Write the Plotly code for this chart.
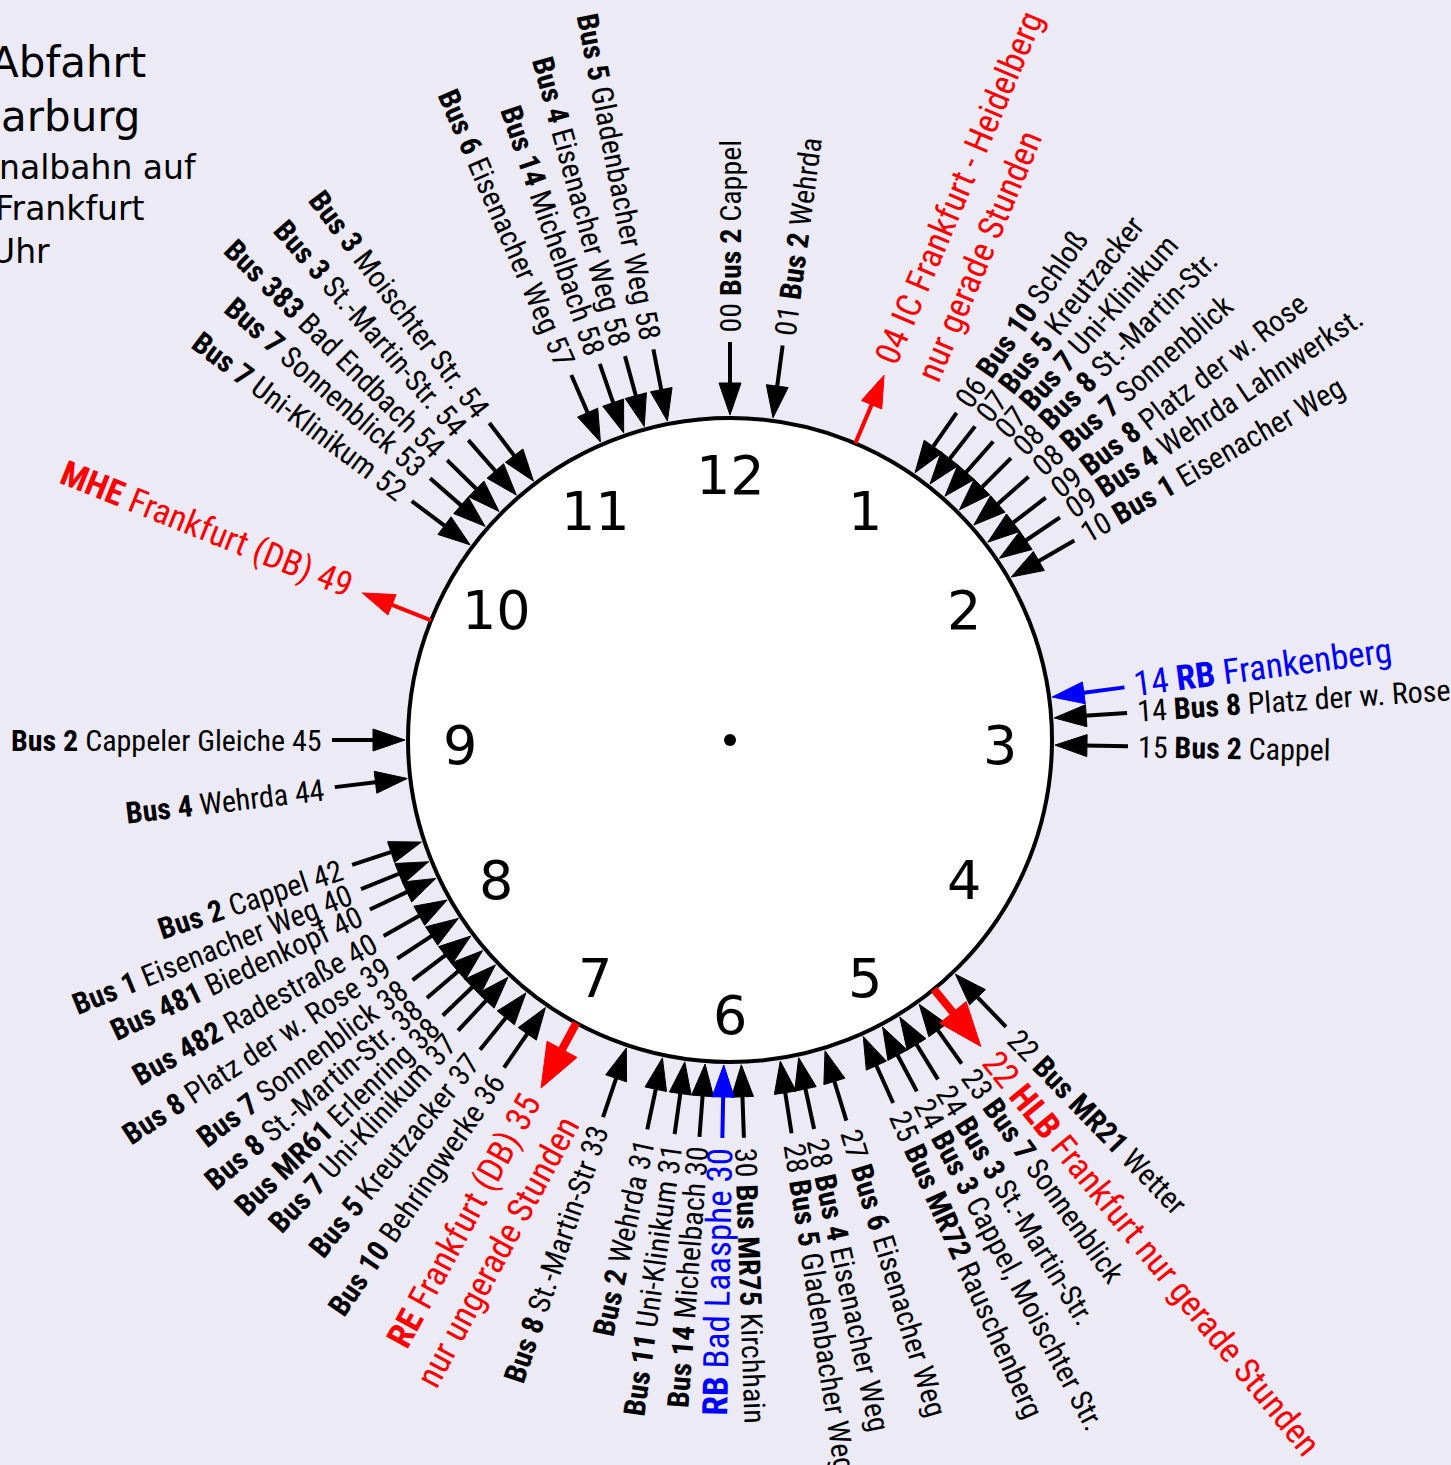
import math
import plotly.graph_objects as go

# ---------------- data ----------------
minute = [0, 1, 4, 6, 7, 7, 8, 8, 9, 9, 10, 14, 14, 15, 22, 22, 23, 24, 24, 25, 27, 28, 28,
          30, 30, 30, 31, 31, 33, 35, 36, 37, 37, 38, 38, 38, 39, 40, 40, 40, 42, 44, 45, 49,
          52, 53, 54, 54, 54, 57, 58, 58, 58]
line = ["Bus 2", "Bus 2", "IC", "Bus 10", "Bus 5", "Bus 7", "Bus 8", "Bus 7", "Bus 8", "Bus 4",
        "Bus 1", "RB", "Bus 8", "Bus 2", "Bus MR21", "HLB", "Bus 7", "Bus 3", "Bus 3", "Bus MR72",
        "Bus 6", "Bus 4", "Bus 5", "Bus MR75", "RB", "Bus 14", "Bus 11", "Bus 2", "Bus 8", "RE",
        "Bus 10", "Bus 5", "Bus 7", "Bus MR61", "Bus 8", "Bus 7", "Bus 8", "Bus 482", "Bus 481",
        "Bus 1", "Bus 2", "Bus 4", "Bus 2", "MHE", "Bus 7", "Bus 7", "Bus 383", "Bus 3", "Bus 3",
        "Bus 6", "Bus 14", "Bus 4", "Bus 5"]
dest = ["Cappel", "Wehrda", "Frankfurt - Heidelberg", "Schloß", "Kreutzacker", "Uni-Klinikum",
        "St.-Martin-Str.", "Sonnenblick", "Platz der w. Rose", "Wehrda Lahnwerkst.", "Eisenacher Weg",
        "Frankenberg", "Platz der w. Rose", "Cappel", "Wetter", "Frankfurt nur gerade Stunden",
        "Sonnenblick", "St.-Martin-Str.", "Cappel, Moischter Str.", "Rauschenberg", "Eisenacher Weg",
        "Eisenacher Weg", "Gladenbacher Weg", "Kirchhain", "Bad Laasphe", "Michelbach", "Uni-Klinikum",
        "Wehrda", "St.-Martin-Str", "Frankfurt (DB)", "Behringwerke", "Kreutzacker", "Uni-Klinikum",
        "Erlenring", "St.-Martin-Str.", "Sonnenblick", "Platz der w. Rose", "Radestraße", "Biedenkopf",
        "Eisenacher Weg", "Cappel", "Wehrda", "Cappeler Gleiche", "Frankfurt (DB)", "Uni-Klinikum",
        "Sonnenblick", "Bad Endbach", "St.-Martin-Str.", "Moischter Str.", "Eisenacher Weg",
        "Michelbach", "Eisenacher Weg", "Gladenbacher Weg"]
# 'bus' = arriving bus, 'rb' = arriving regional train, 'dep' = departing train
kind = ["bus", "bus", "dep", "bus", "bus", "bus", "bus", "bus", "bus", "bus", "bus", "rb", "bus",
        "bus", "bus", "dep", "bus", "bus", "bus", "bus", "bus", "bus", "bus", "bus", "rb", "bus",
        "bus", "bus", "bus", "dep", "bus", "bus", "bus", "bus", "bus", "bus", "bus", "bus", "bus",
        "bus", "bus", "bus", "bus", "dep", "bus", "bus", "bus", "bus", "bus", "bus", "bus", "bus", "bus"]
note = {"IC": "nur gerade Stunden", "RE": "nur ungerade Stunden"}

title_lines = ["Abfahrt", "arburg", "nalbahn auf", "Frankfurt", "Uhr"]
hour_labels = ["12", "1", "2", "3", "4", "5", "6", "7", "8", "9", "10", "11"]

# ---------------- layout / style ----------------
# small angular nudges (deg) that spread crowded rays apart
ray_nudge = [0, 1.6, -1.1, -1.3, -4.0, -0.6, -3.1, 0.6, -1.5, 2.0, -0.1, -1.6, 2.1, 0.9,
             4.1, 8.7, 6.4, 4.5, 8.0, 5.8, 1.0, -0.2, 3.1, -2.0, 1.1, 4.4, 2.0, 6.0, 0.6,
             -1.5, -1.4, -3.1, 1.1, -1.8, 1.6, 4.9, 2.7, 0.5, 4.8, 8.0, -0.3, -0.8, 0.0, -2.2,
             -5.1, -6.9, -9.3, -5.1, -1.2, -5.5, -7.1, -3.3, 0.9]
PLAIN_LINES = {"IC"}
HEAVY_LINES = {"HLB", "RE"}

W, H = 1451, 1465
CX, CY, R = 730, 740, 322
R_TIP_IN, R_TAIL_IN = 325, 398
R_BASE_OUT, R_TIP_OUT = 322, 396
R_TEXT = 407
NUM_CX, NUM_CY, NUM_R = 730, 745, 270
BG = "#EBEAF5"
COLORS = {"bus": "black", "rb": "#0000FF", "dep": "#FF0000"}
HEADS = {"normal": (32, 22, 4), "heavy": (44, 34, 8)}
LABEL_FONT = "Roboto Condensed, Liberation Sans Narrow, Roboto, sans-serif"
SIZE_BUS, SIZE_TRAIN = 30, 35
BOX_H = 1.17          # text box height in em
LINE_GAP = 45


def unit(theta):
    t = math.radians(theta)
    return math.sin(t), -math.cos(t)


fig = go.Figure()
shapes = [
    dict(type="circle", xref="x", yref="y", x0=CX - R, x1=CX + R, y0=CY - R, y1=CY + R,
         line=dict(color="black", width=4), fillcolor="white", layer="below"),
    dict(type="circle", xref="x", yref="y", x0=CX - 6, x1=CX + 6, y0=CY - 6, y1=CY + 6,
         line=dict(color="black", width=0), fillcolor="black", layer="above"),
]

shaft_xy = {}
head_xy = {}
annotations = []


def radial_label(sx, sy, a, outward, txt, fs, col):
    """Place a rotated label so that its start (outward) or end (inward)
    middle point sits at (sx, sy)."""
    h = BOX_H * fs
    ar = math.radians(a)
    s, c = math.sin(ar), math.cos(ar)
    if outward:
        x, xa = sx - h * abs(s) / 2, "left"
        if s >= 0:
            y, ya = sy - h * c / 2, "top"
        else:
            y, ya = sy + h * c / 2, "bottom"
    else:
        x, xa = sx + h * abs(s) / 2, "right"
        if s > 0:
            y, ya = sy + h * c / 2, "bottom"
        else:
            y, ya = sy - h * c / 2, "top"
    return dict(x=x, y=y, xref="x", yref="y", text=txt, textangle=a, showarrow=False,
                xanchor=xa, yanchor=ya, borderpad=0,
                font=dict(family=LABEL_FONT, size=fs, color=col))


for i in range(len(minute)):
    th = minute[i] * 6 + ray_nudge[i]
    col = COLORS[kind[i]]
    style = "heavy" if line[i] in HEAVY_LINES else "normal"
    L, HW, SW = HEADS[style]
    ux, uy = unit(th)
    tx, ty = -uy, ux
    if kind[i] == "dep":
        tip_r = R_TIP_OUT
        base_r = tip_r - L
        s0, s1 = R_BASE_OUT, base_r + 2
    else:
        tip_r = R_TIP_IN
        base_r = tip_r + L
        s0, s1 = R_TAIL_IN, base_r - 2
    sx, sy = shaft_xy.setdefault((col, SW), ([], []))
    sx += [CX + s0 * ux, CX + s1 * ux, None]
    sy += [CY + s0 * uy, CY + s1 * uy, None]
    hx, hy = head_xy.setdefault(col, ([], []))
    bx, by = CX + base_r * ux, CY + base_r * uy
    hx += [CX + tip_r * ux, bx + HW / 2 * tx, bx - HW / 2 * tx, CX + tip_r * ux, None]
    hy += [CY + tip_r * uy, by + HW / 2 * ty, by - HW / 2 * ty, CY + tip_r * uy, None]

    # ---- label ----
    right = th < 180
    a = th - 90 if right else th - 270
    ar = math.radians(a)
    nx, ny = -math.sin(ar), math.cos(ar)
    lname = line[i] if line[i] in PLAIN_LINES else f"<b>{line[i]}</b>"
    mm = f"{minute[i]:02d}"
    main = f"{mm} {lname} {dest[i]}" if right else f"{lname} {dest[i]} {mm}"
    fs = SIZE_BUS if kind[i] == "bus" else SIZE_TRAIN
    rows, offs = [main], [0.0]
    if line[i] in note:
        rows.append(note[line[i]])
        offs = [-4.0, LINE_GAP - 4.0]
    for txt, off in zip(rows, offs):
        px = CX + R_TEXT * ux + off * nx
        py = CY + R_TEXT * uy + off * ny
        annotations.append(radial_label(px, py, a, right, txt, fs, col))

for (col, sw), (xs, ys) in shaft_xy.items():
    fig.add_trace(go.Scatter(x=xs, y=ys, mode="lines", line=dict(color=col, width=sw),
                             hoverinfo="skip", showlegend=False))
for col, (xs, ys) in head_xy.items():
    fig.add_trace(go.Scatter(x=xs, y=ys, mode="lines", fill="toself", fillcolor=col,
                             line=dict(color=col, width=1), hoverinfo="skip", showlegend=False))

# hour numbers
for k, lab in enumerate(hour_labels):
    ux, uy = unit(k * 30)
    annotations.append(dict(x=NUM_CX + NUM_R * ux, y=NUM_CY + NUM_R * uy, xref="x", yref="y",
                            text=lab, showarrow=False, xanchor="center", yanchor="middle",
                            font=dict(family="DejaVu Sans", size=54, color="black")))

# title (cut at the left edge as in the original)
title_pos = [(-12, 63, 42), (-1, 116, 42), (-3, 167, 33), (-7, 209, 33), (-11, 251, 33)]
for txt, (tx0, ty0, fs) in zip(title_lines, title_pos):
    annotations.append(dict(x=tx0 / W, y=1 - ty0 / H, xref="paper", yref="paper", text=txt,
                            showarrow=False, xanchor="left", yanchor="middle",
                            font=dict(family="DejaVu Sans", size=fs, color="black")))

fig.update_layout(
    width=W, height=H, margin=dict(l=0, r=0, t=0, b=0),
    paper_bgcolor=BG, plot_bgcolor=BG, showlegend=False,
    xaxis=dict(range=[0, W], visible=False, fixedrange=True),
    yaxis=dict(range=[H, 0], visible=False, fixedrange=True),
    shapes=shapes, annotations=annotations,
)

fig.write_html("out.html", post_script="document.body.style.margin='0px';",
               config={"displayModeBar": False})
